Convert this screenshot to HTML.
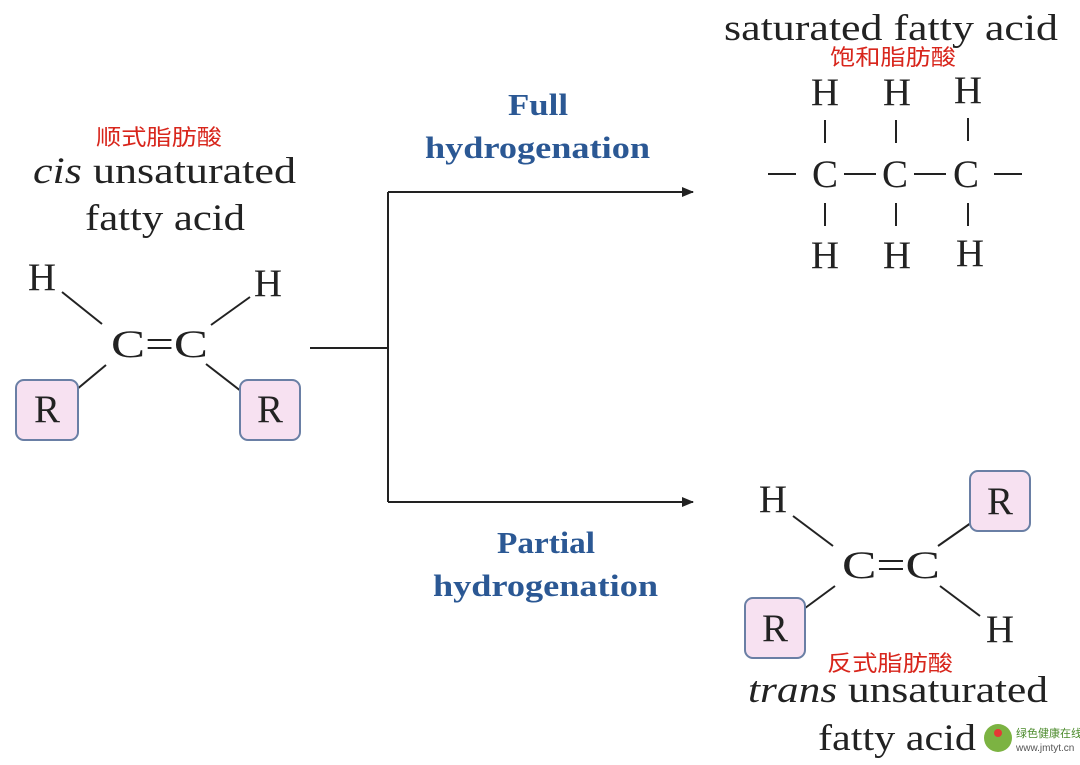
<!DOCTYPE html>
<html><head><meta charset="utf-8"><style>
html,body{margin:0;padding:0;background:#fff;}
svg text{font-family:"Liberation Serif","Noto Serif CJK SC",serif;fill:#222;}
.cn{font-family:"Liberation Sans","Noto Sans CJK SC",sans-serif !important;fill:#d8261c !important;font-size:22px;}
.bl{fill:#2b5894 !important;font-weight:bold;font-size:31px;}
</style></head><body>
<svg width="1080" height="760" viewBox="0 0 1080 760" xmlns="http://www.w3.org/2000/svg">
<defs><marker id="a" markerWidth="12" markerHeight="10" refX="11" refY="5" orient="auto" markerUnits="userSpaceOnUse"><path d="M0,0 L12,5 L0,10 z" fill="#222"/></marker></defs>
<g stroke="#222" stroke-width="2" fill="none">
<line x1="62" y1="292" x2="102" y2="324"/><line x1="211" y1="325" x2="250" y2="297"/>
<line x1="106" y1="365" x2="70" y2="395"/><line x1="206" y1="364" x2="246" y2="395"/>
<line x1="310" y1="348" x2="388" y2="348"/>
<line x1="388" y1="192" x2="388" y2="502"/>
<line x1="388" y1="192" x2="693" y2="192" marker-end="url(#a)"/>
<line x1="388" y1="502" x2="693" y2="502" marker-end="url(#a)"/>
<line x1="825" y1="120" x2="825" y2="143"/><line x1="896" y1="120" x2="896" y2="143"/><line x1="968" y1="118" x2="968" y2="141"/>
<line x1="825" y1="203" x2="825" y2="226"/><line x1="896" y1="203" x2="896" y2="226"/><line x1="968" y1="203" x2="968" y2="226"/>
<line x1="768" y1="174" x2="796" y2="174"/><line x1="844" y1="174" x2="876" y2="174"/><line x1="914" y1="174" x2="946" y2="174"/><line x1="994" y1="174" x2="1022" y2="174"/>
<line x1="793" y1="516" x2="833" y2="546"/><line x1="938" y1="546" x2="978" y2="518"/>
<line x1="835" y1="586" x2="797" y2="614"/><line x1="940" y1="586" x2="980" y2="616"/>
</g>
<g fill="#f7e1f1" stroke="#6a7fa5" stroke-width="2">
<rect x="16" y="380" width="62" height="60" rx="8"/><rect x="240" y="380" width="60" height="60" rx="8"/>
<rect x="970" y="471" width="60" height="60" rx="8"/><rect x="745" y="598" width="60" height="60" rx="8"/>
</g>
<g font-size="37">
<text class="cn" x="96" y="145" textLength="126" lengthAdjust="spacingAndGlyphs">顺式脂肪酸</text>
<text x="33" y="183" textLength="263" lengthAdjust="spacingAndGlyphs"><tspan font-style="italic">cis</tspan> unsaturated</text>
<text x="85" y="230" textLength="160" lengthAdjust="spacingAndGlyphs">fatty acid</text>
<text x="42" y="290" text-anchor="middle" font-size="39">H</text><text x="268" y="296" text-anchor="middle" font-size="39">H</text>
<text x="111" y="357" textLength="97" lengthAdjust="spacingAndGlyphs" font-size="39">C=C</text>
<text x="47" y="422" text-anchor="middle" font-size="39">R</text><text x="270" y="422" text-anchor="middle" font-size="39">R</text>
<text class="bl" x="508" y="115" textLength="60" lengthAdjust="spacingAndGlyphs">Full</text>
<text class="bl" x="425" y="158" textLength="225" lengthAdjust="spacingAndGlyphs">hydrogenation</text>
<text class="bl" x="497" y="553" textLength="98" lengthAdjust="spacingAndGlyphs">Partial</text>
<text class="bl" x="433" y="596" textLength="225" lengthAdjust="spacingAndGlyphs">hydrogenation</text>
<text x="724" y="40" textLength="334" lengthAdjust="spacingAndGlyphs">saturated fatty acid</text>
<text class="cn" x="830" y="65" textLength="126" lengthAdjust="spacingAndGlyphs">饱和脂肪酸</text>
<g font-size="39" text-anchor="middle">
<text x="825" y="105">H</text><text x="897" y="105">H</text><text x="968" y="103">H</text>
<text x="825" y="187">C</text><text x="895" y="187">C</text><text x="966" y="187">C</text>
<text x="825" y="268">H</text><text x="897" y="268">H</text><text x="970" y="266">H</text>
<text x="773" y="512">H</text>
<text x="1000" y="514">R</text><text x="775" y="641">R</text>
<text x="1000" y="642">H</text>
</g>
<text x="842" y="578" textLength="98" lengthAdjust="spacingAndGlyphs" font-size="39">C=C</text>
<text class="cn" x="827" y="671" textLength="126" lengthAdjust="spacingAndGlyphs">反式脂肪酸</text>
<text x="748" y="702" textLength="300" lengthAdjust="spacingAndGlyphs"><tspan font-style="italic">trans</tspan> unsaturated</text>
<text x="818" y="750" textLength="158" lengthAdjust="spacingAndGlyphs">fatty acid</text>
</g>
<circle cx="998" cy="738" r="14" fill="#7cb342"/><circle cx="998" cy="733" r="4" fill="#e53935"/>
<text x="1016" y="737" font-size="11" style="fill:#4a8a2a;font-family:'Noto Sans CJK SC',sans-serif">绿色健康在线</text>
<text x="1016" y="751" font-size="10" style="fill:#555;font-family:'Liberation Sans',sans-serif">www.jmtyt.cn</text>
</svg>
</body></html>
